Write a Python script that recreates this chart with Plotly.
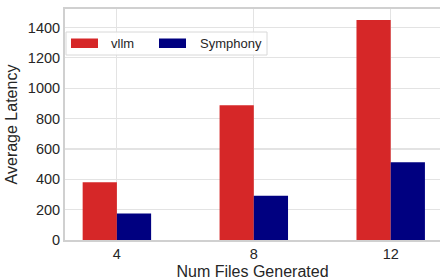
import plotly.graph_objects as go

num_files = [4, 8, 12]
vllm = [380, 888, 1450]
symphony = [175, 292, 512]
series_names = ["vllm", "Symphony"]
colors = ["#d62728", "#000080"]
y_ticks = [0, 200, 400, 600, 800, 1000, 1200, 1400]

W, H = 440, 280
L, R, T, B = 65, 0, 9, 40
pw, ph = W - L - R, H - T - B

def px(x):
    return (x - L) / pw

def py(y):
    return (H - B - y) / ph

font = "Liberation Sans, Arial, sans-serif"
txt = "#262626"

fig = go.Figure()
for name, vals, c in zip(series_names, [vllm, symphony], colors):
    fig.add_trace(go.Bar(x=num_files, y=vals, name=name, marker=dict(color=c, line=dict(width=0)),
                         showlegend=False, hoverinfo="skip"))

fig.update_layout(
    width=W, height=H, margin=dict(l=L, r=R, t=T, b=B, autoexpand=False),
    barmode="group", bargap=0.5, bargroupgap=0, hovermode=False,
    paper_bgcolor="white", plot_bgcolor="white",
    font=dict(family=font, color=txt, size=14.5),
    xaxis=dict(range=[2.484, 13.44], tickvals=num_files, ticktext=[str(v) for v in num_files],
               showgrid=True, gridcolor="#e3e3e3", gridwidth=1.2,
               showline=True, linecolor="#d0d0d0", linewidth=2, mirror=True,
               ticks="", zeroline=False, automargin=False,
               title=dict(text="Num Files Generated", font=dict(size=16), standoff=4)),
    yaxis=dict(range=[0, 1522], tickvals=y_ticks, showgrid=True, gridcolor="#e3e3e3", gridwidth=1.2,
               showline=True, linecolor="#d0d0d0", linewidth=2, mirror=False,
               ticks="", zeroline=False, automargin=False,
               title=dict(text="Average Latency", font=dict(size=16), standoff=6)),
)

# legend (manual, matplotlib style)
fig.add_shape(type="rect", xref="paper", yref="paper",
              x0=px(66), x1=px(267), y0=py(55), y1=py(32),
              line=dict(color="#d8d8d8", width=1), fillcolor="rgba(255,255,255,0.85)", layer="above")
patch_x = [71, 159]
text_x = [109, 198]
for name, c, x0, tx in zip(series_names, colors, patch_x, text_x):
    fig.add_shape(type="rect", xref="paper", yref="paper",
                  x0=px(x0), x1=px(x0 + 27), y0=py(48), y1=py(38.5),
                  line=dict(width=0), fillcolor=c, layer="above")
    fig.add_annotation(xref="paper", yref="paper", x=px(tx), y=py(43.5), text=name,
                       showarrow=False, xanchor="left", yanchor="middle",
                       font=dict(size=13, color=txt, family=font))

fig.write_html("out.html", config={"displayModeBar": False, "staticPlot": True},
               post_script="document.body.style.margin='0';document.body.style.overflow='hidden';")
